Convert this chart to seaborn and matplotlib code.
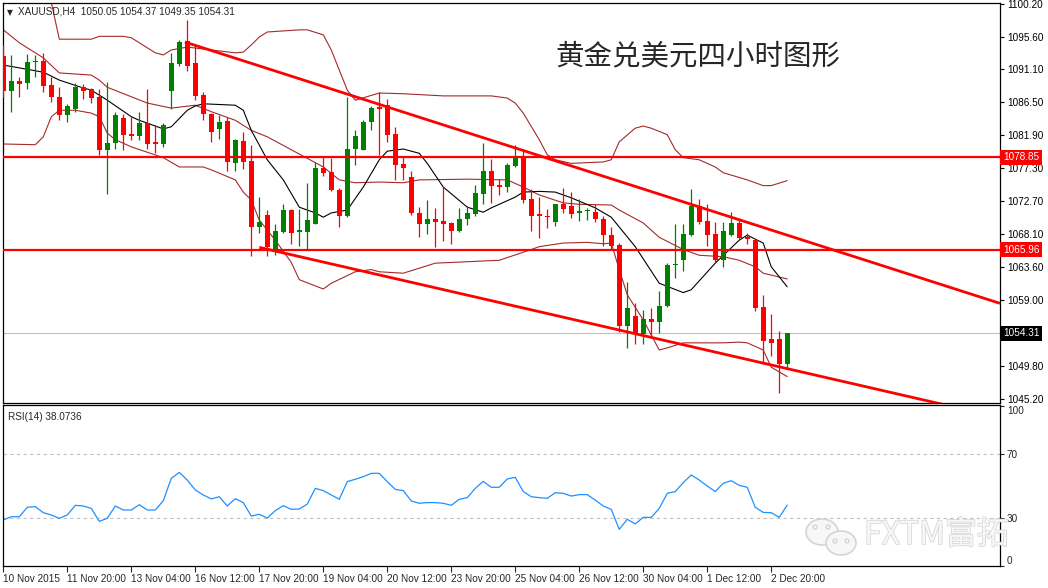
import numpy as np
import pandas as pd
import seaborn as sns
import matplotlib
matplotlib.use("Agg")
import matplotlib.pyplot as plt
import matplotlib.transforms as mtrans
import matplotlib.patheffects as pe
from matplotlib.patches import Ellipse

# XAUUSD H4 candles
opens = [1093.0, 1088.1, 1089.5, 1089.2, 1092.1, 1092.3, 1088.9, 1087.3, 1084.8, 1085.6,
         1088.6, 1088.3, 1087.3, 1079.8, 1080.9, 1084.3, 1082.1, 1081.8, 1083.6, 1081.0,
         1080.7, 1088.1, 1091.8, 1095.0, 1092.0, 1087.5, 1084.9, 1082.8, 1083.9, 1078.0,
         1081.1, 1078.3, 1069.1, 1070.8, 1065.8, 1068.4, 1071.5, 1068.5, 1068.5, 1069.6,
         1077.4, 1076.8, 1074.3, 1070.7, 1080.0, 1079.9, 1083.7, 1085.8, 1086.2, 1082.1,
         1077.9, 1076.1, 1071.1, 1069.5, 1070.3, 1070.0, 1069.7, 1068.6, 1070.3, 1071.0,
         1073.8, 1076.9, 1075.0, 1074.7, 1077.6, 1078.7, 1073.0, 1070.9, 1070.6, 1069.9,
         1072.3, 1072.0, 1071.1, 1071.3, 1071.2, 1070.2, 1068.0, 1066.6, 1055.3, 1056.7,
         1054.3, 1056.3, 1055.9, 1058.1, 1063.8, 1064.5, 1068.0, 1072.1, 1070.0, 1068.2,
         1064.5, 1068.0, 1069.7, 1067.7, 1067.3, 1058.0, 1053.5, 1053.5, 1050.05]
highs = [1094.5, 1093.1, 1090.0, 1093.2, 1093.1, 1093.4, 1090.0, 1088.6, 1086.3, 1089.2,
         1089.1, 1088.5, 1088.4, 1089.3, 1085.2, 1084.9, 1084.5, 1085.2, 1088.4, 1083.3,
         1083.6, 1093.4, 1095.2, 1098.0, 1094.4, 1087.9, 1085.0, 1084.8, 1084.4, 1081.4,
         1082.4, 1080.5, 1073.3, 1071.5, 1069.6, 1072.3, 1071.7, 1071.6, 1075.3, 1078.2,
         1079.0, 1078.7, 1074.5, 1087.3, 1082.7, 1084.0, 1086.0, 1087.9, 1086.9, 1083.1,
         1079.0, 1076.9, 1071.9, 1072.9, 1071.8, 1074.8, 1069.8, 1071.8, 1072.1, 1075.0,
         1080.9, 1078.6, 1075.8, 1078.0, 1080.5, 1079.8, 1074.4, 1073.3, 1071.7, 1072.4,
         1074.5, 1074.0, 1073.1, 1071.8, 1072.4, 1070.6, 1069.1, 1066.9, 1061.5, 1058.5,
         1057.6, 1057.8, 1060.2, 1064.1, 1069.5, 1069.6, 1074.4, 1073.0, 1072.3, 1069.9,
         1069.9, 1071.2, 1070.2, 1068.3, 1067.4, 1059.7, 1057.0, 1054.7, 1054.37]
lows = [1087.3, 1085.1, 1087.3, 1088.4, 1090.1, 1088.0, 1086.6, 1084.0, 1083.8, 1085.1,
        1087.0, 1086.4, 1079.2, 1073.8, 1080.0, 1079.9, 1081.2, 1081.2, 1080.0, 1079.4,
        1080.3, 1085.6, 1091.6, 1090.9, 1086.8, 1084.0, 1081.0, 1081.4, 1076.9, 1077.0,
        1077.2, 1065.1, 1068.3, 1065.1, 1065.3, 1068.3, 1066.7, 1066.5, 1065.9, 1069.5,
        1076.3, 1074.2, 1069.2, 1070.5, 1077.8, 1079.8, 1082.6, 1079.2, 1081.0, 1075.7,
        1075.7, 1070.8, 1067.7, 1068.1, 1066.4, 1067.2, 1066.8, 1068.5, 1069.4, 1070.6,
        1072.4, 1072.5, 1073.6, 1074.0, 1077.5, 1072.5, 1068.6, 1067.6, 1069.0, 1069.3,
        1071.1, 1070.4, 1070.0, 1070.1, 1069.9, 1066.5, 1066.0, 1054.5, 1052.3, 1052.9,
        1052.9, 1053.9, 1054.4, 1058.0, 1062.1, 1063.0, 1067.9, 1069.5, 1066.5, 1064.2,
        1063.5, 1067.9, 1067.3, 1066.7, 1057.5, 1050.1, 1051.2, 1046.0, 1049.35]
closes = [1088.1, 1089.5, 1089.1, 1092.1, 1092.3, 1088.8, 1087.3, 1084.8, 1086.0, 1088.6,
          1088.1, 1087.1, 1079.8, 1080.8, 1084.7, 1082.0, 1081.8, 1083.6, 1080.7, 1080.7,
          1083.3, 1092.0, 1094.9, 1091.6, 1087.4, 1084.9, 1082.4, 1083.8, 1078.2, 1081.2,
          1078.2, 1069.1, 1069.8, 1066.3, 1068.6, 1071.5, 1068.3, 1068.6, 1070.1, 1077.4,
          1076.6, 1074.3, 1070.7, 1080.0, 1081.8, 1083.8, 1085.7, 1085.6, 1081.9, 1077.8,
          1077.3, 1071.1, 1069.6, 1070.3, 1069.9, 1069.5, 1068.6, 1070.3, 1071.1, 1073.9,
          1076.9, 1074.9, 1074.7, 1077.8, 1078.7, 1072.9, 1070.7, 1070.6, 1070.5, 1072.3,
          1071.6, 1070.9, 1071.4, 1071.4, 1070.2, 1068.0, 1066.5, 1055.3, 1057.9, 1054.2,
          1056.3, 1055.9, 1058.2, 1063.8, 1064.0, 1068.2, 1072.0, 1069.9, 1068.0, 1064.6,
          1068.6, 1069.7, 1067.6, 1067.4, 1057.8, 1053.3, 1053.0, 1050.05, 1054.31]

# Bollinger bands and short MA, sampled at bar indices
ub_idx = [0, 4, 6, 7, 11, 12, 15, 16, 19, 20, 21, 23, 26, 29, 30, 31, 32, 33, 37, 38,
          40, 41, 43, 44, 47, 50, 55, 61, 63, 64, 65, 67, 68, 69, 71, 75, 76, 77, 79, 80,
          81, 83, 84, 85, 87, 89, 90, 93, 95, 96, 98]
ub_val = [1103.5, 1102.5, 1100.4, 1095.3, 1095.3, 1095.7, 1095.7, 1095.5, 1093.4, 1093.1,
          1093.8, 1094.2, 1093.8, 1093.4, 1093.5, 1094.5, 1095.6, 1096.3, 1096.6, 1096.6,
          1095.9, 1093.8, 1088.2, 1086.8, 1087.8, 1087.7, 1087.4, 1087.4, 1087.1, 1086.4,
          1085.0, 1081.3, 1079.2, 1078.5, 1078.0, 1078.2, 1078.5, 1081.0, 1082.9, 1083.2,
          1082.9, 1082.0, 1079.9, 1078.8, 1078.5, 1077.5, 1076.7, 1075.7, 1074.9, 1074.9,
          1075.6]
mb_idx = [0, 2, 5, 7, 11, 12, 13, 18, 21, 24, 26, 29, 31, 33, 36, 38, 40, 42, 44, 47,
          50, 52, 58, 63, 65, 67, 70, 72, 76, 77, 80, 82, 85, 87, 90, 92, 94, 95, 98]
mb_val = [1096.6, 1094.8, 1092.7, 1090.6, 1090.3, 1089.6, 1088.6, 1086.4, 1085.7, 1086.1,
          1085.2, 1084.0, 1082.6, 1081.7, 1079.9, 1078.7, 1077.5, 1075.7, 1075.3, 1075.4,
          1075.3, 1075.7, 1075.8, 1075.7, 1074.7, 1073.6, 1072.5, 1072.3, 1072.2, 1071.5,
          1069.7, 1067.7, 1066.0, 1065.2, 1065.0, 1064.5, 1063.6, 1062.7, 1061.9]
lb_idx = [0, 4, 5, 6, 7, 9, 11, 12, 13, 14, 16, 20, 22, 25, 26, 29, 30, 31, 32, 34,
          36, 37, 40, 41, 44, 46, 47, 50, 54, 58, 62, 66, 67, 70, 73, 75, 76, 77, 78, 80,
          82, 83, 85, 90, 92, 93, 95, 96, 98]
lb_val = [1080.7, 1080.6, 1081.7, 1084.5, 1085.4, 1085.4, 1085.0, 1084.5, 1082.2, 1081.3,
          1080.3, 1078.8, 1077.5, 1077.5, 1077.1, 1075.7, 1074.0, 1072.9, 1070.1, 1067.3,
          1064.2, 1061.8, 1060.5, 1061.3, 1062.9, 1063.2, 1062.9, 1062.7, 1064.1, 1064.3,
          1064.5, 1066.0, 1066.4, 1066.9, 1067.0, 1066.8, 1066.9, 1063.2, 1059.7, 1056.2,
          1052.0, 1052.3, 1053.0, 1053.0, 1053.1, 1053.0, 1052.0, 1049.6, 1048.3]
ma_idx = [0, 5, 7, 10, 11, 13, 16, 17, 20, 21, 23, 24, 25, 29, 30, 31, 33, 35, 37, 39,
          40, 41, 43, 45, 47, 48, 50, 52, 53, 55, 58, 60, 61, 64, 65, 67, 69, 71, 74, 76,
          79, 82, 85, 86, 89, 92, 93, 95, 96, 98]
ma_val = [1091.7, 1090.7, 1089.6, 1088.5, 1088.2, 1086.8, 1084.5, 1084.0, 1082.8, 1083.1,
          1085.4, 1086.0, 1086.3, 1086.1, 1085.4, 1082.6, 1078.5, 1075.7, 1071.9, 1071.1,
          1070.5, 1071.1, 1071.5, 1074.7, 1078.5, 1079.7, 1080.0, 1079.4, 1078.0, 1074.7,
          1071.9, 1071.2, 1071.8, 1073.3, 1074.0, 1074.1, 1074.0, 1073.2, 1071.8, 1070.5,
          1066.4, 1061.3, 1060.0, 1060.4, 1064.1, 1067.3, 1068.0, 1066.9, 1063.6, 1060.8]

# channel lines (bar, price) and support/resistance levels
tl_up_x = [22.7, 124.6]
tl_up_y = [1094.9, 1058.5]
tl_dn_x = [32.0, 124.6]
tl_dn_y = [1066.3, 1042.6]
levels = [1078.85, 1065.96]
last_price = 1054.31

rsi = [28.8, 30.8, 30.8, 36.7, 37.1, 33.3, 31.9, 29.8, 31.9, 37.9,
       37.5, 36.0, 27.9, 29.8, 37.5, 35.0, 35.0, 38.3, 35.0, 35.0,
       40.8, 54.8, 58.5, 53.7, 47.5, 44.4, 41.9, 43.3, 37.5, 42.1,
       39.6, 31.2, 32.3, 30.0, 34.6, 37.7, 35.4, 35.6, 38.7, 48.5,
       47.1, 44.4, 41.7, 52.7, 54.2, 55.8, 57.9, 57.9, 52.7, 47.9,
       47.1, 40.6, 39.2, 39.6, 39.6, 39.2, 37.9, 41.7, 42.7, 48.5,
       52.9, 49.2, 49.2, 54.4, 55.4, 46.5, 43.3, 42.7, 42.3, 45.8,
       45.4, 43.7, 44.6, 44.6, 41.2, 37.5, 35.4, 22.9, 29.2, 26.3,
       30.4, 30.4, 36.0, 45.4, 46.5, 52.1, 56.9, 53.7, 50.0, 46.5,
       51.7, 53.3, 50.4, 49.2, 36.7, 33.5, 33.3, 30.4, 38.07]

price_ticks = [1100.20, 1095.60, 1091.10, 1086.50, 1081.90, 1077.30, 1072.70,
               1068.10, 1063.60, 1059.00, 1049.80, 1045.20]
time_labels = ["10 Nov 2015", "11 Nov 20:00", "13 Nov 04:00", "16 Nov 12:00",
               "17 Nov 20:00", "19 Nov 04:00", "20 Nov 12:00", "23 Nov 20:00",
               "25 Nov 04:00", "26 Nov 12:00", "30 Nov 04:00", "1 Dec 12:00",
               "2 Dec 20:00"]

sns.set_style("white")
plt.rcParams["font.family"] = ["Liberation Sans", "DejaVu Sans"]

df = pd.DataFrame({"o": opens, "h": highs, "l": lows, "c": closes})
df["bar"] = np.arange(len(df))
df["col"] = np.where(df["c"] >= df["o"], "#008000", "#ff0000")

fig = plt.figure(figsize=(10.48, 5.88), dpi=100)
ax = fig.add_axes([3 / 1048, 1 - 403 / 588, 997 / 1048, 400 / 588])
ax2 = fig.add_axes([3 / 1048, 1 - 566 / 588, 997 / 1048, 161 / 588])

XL = (-0.04, 124.6)
FS = 7.2

# --- price panel
ax.axhline(last_price, color="#c0c0c0", lw=0.8, zorder=1)
sns.lineplot(x=ub_idx, y=ub_val, ax=ax, color="#a52a2a", lw=0.8, zorder=2)
sns.lineplot(x=mb_idx, y=mb_val, ax=ax, color="#a52a2a", lw=0.8, zorder=2)
sns.lineplot(x=lb_idx, y=lb_val, ax=ax, color="#a52a2a", lw=0.8, zorder=2)
sns.lineplot(x=ma_idx, y=ma_val, ax=ax, color="black", lw=0.8, zorder=2)

ax.vlines(df["bar"], df["l"], df["h"], colors=df["col"], lw=0.9, zorder=3)
body = np.maximum((df["c"] - df["o"]).abs(), 0.16)
ax.bar(df["bar"], body, bottom=np.minimum(df["o"], df["c"]), width=0.62,
       color=df["col"], linewidth=0, zorder=4)

for lv in levels:
    ax.axhline(lv, color="#ff0000", lw=1.6, zorder=5)
ax.plot(tl_up_x, tl_up_y, color="#ff0000", lw=2.0, zorder=5, solid_capstyle="butt")
ax.plot(tl_dn_x, tl_dn_y, color="#ff0000", lw=2.0, zorder=5, solid_capstyle="butt")

ax.set_xlim(*XL)
ax.set_ylim(1044.62, 1100.34)
ax.set_xticks([])
ax.yaxis.tick_right()
ax.set_yticks(price_ticks)
ax.set_yticklabels([f"{v:.2f}" for v in price_ticks])
ax.tick_params(axis="y", right=True, left=False, length=3, width=0.8, pad=2,
               labelsize=FS, colors="black")
ax.set_xlabel("")
ax.set_ylabel("")

trans = mtrans.blended_transform_factory(ax.transAxes, ax.transData)
for lv in levels:
    ax.text(1.003, lv, f"{lv:.2f}", transform=trans, color="white", fontsize=FS,
            va="center", ha="left", clip_on=False, zorder=10,
            bbox=dict(boxstyle="square,pad=0.25", fc="#ff0000", ec="none"))
ax.text(1.003, last_price, f"{last_price:.2f}", transform=trans, color="white",
        fontsize=FS, va="center", ha="left", clip_on=False, zorder=10,
        bbox=dict(boxstyle="square,pad=0.25", fc="black", ec="none"))

ax.text(0.004, 0.987, "\u25BC", transform=ax.transAxes, fontsize=5.5, va="top",
        family="DejaVu Sans")
ax.text(0.015, 0.991, "XAUUSD,H4  1050.05 1054.37 1049.35 1054.31",
        transform=ax.transAxes, fontsize=FS, va="top")

# --- RSI panel
ax2.axhline(70, color="#c0c0c0", lw=0.8, ls=(0, (3, 3)))
ax2.axhline(30, color="#c0c0c0", lw=0.8, ls=(0, (3, 3)))
sns.lineplot(x=np.arange(len(rsi)), y=rsi, ax=ax2, color="#1e90ff", lw=0.9)
ax2.set_xlim(*XL)
ax2.set_ylim(0, 100.6)
ax2.yaxis.tick_right()
ax2.set_yticks([100, 70, 30, 0])
ax2.set_yticklabels(["100", "70", "30", "0"])
ax2.tick_params(axis="y", right=True, left=False, length=3, width=0.8, pad=2,
                labelsize=FS)
ylabs = ax2.get_yticklabels()
ylabs[0].set_va("top")
ylabs[3].set_va("bottom")
ax2.set_xticks(np.arange(0, 97, 8))
ax2.set_xticklabels(time_labels)
ax2.tick_params(axis="x", bottom=True, length=4, width=0.8, pad=1.5, labelsize=FS)
for lb in ax2.get_xticklabels():
    lb.set_ha("left")
ax2.set_xlabel("")
ax2.set_ylabel("")
ax2.text(0.005, 0.955, "RSI(14) 38.0736", transform=ax2.transAxes, fontsize=FS,
         va="top")

for a in (ax, ax2):
    for s in a.spines.values():
        s.set_visible(True)
        s.set_color("black")
        s.set_linewidth(0.9)

# --- title and watermark
fig.text(555 / 1048, 1 - 56 / 588, "黄金兑美元四小时图形", fontsize=20.5,
         family=["Noto Sans CJK SC", "DejaVu Sans"], va="center", ha="left")
wm = fig.text(864 / 1048, 1 - 535 / 588, "FXTM富拓", fontsize=23, color="#f7f7f7",
              family=["Noto Sans CJK SC", "DejaVu Sans"], va="center", ha="left",
              weight="light", zorder=0)
wm.set_path_effects([pe.withStroke(linewidth=1.0, foreground="#d2d2d2")])
for cx, cy, w, h in [(822, 532, 32, 26), (841, 543, 30, 24)]:
    fig.add_artist(Ellipse((cx / 1048, 1 - cy / 588), w / 1048, h / 588,
                           transform=fig.transFigure, fc="#f7f7f7",
                           ec="#d2d2d2", lw=1.1))
for dx, dy in [(815, 527), (828, 527), (835, 541), (847, 541)]:
    fig.add_artist(Ellipse((dx / 1048, 1 - dy / 588), 4 / 1048, 4 / 588,
                           transform=fig.transFigure, fc="none",
                           ec="#d2d2d2", lw=0.9))

fig.savefig("out.png", dpi=100, facecolor="white")
